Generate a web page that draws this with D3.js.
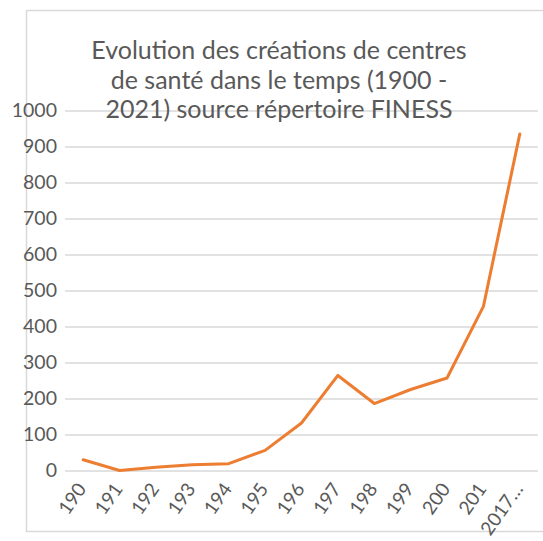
<!DOCTYPE html>
<html>
<head>
<meta charset="utf-8">
<script src="https://cdn.jsdelivr.net/npm/d3@7"></script>
<style>
  body { margin: 0; background: #fff; }
  svg { display: block; font-family: Lato, "Open Sans", sans-serif; }
</style>
</head>
<body>
<svg></svg>
<script>
let width = 543;
let height = 541;

let categories = ["190", "191", "192", "193", "194", "195", "196", "197", "198", "199", "200", "201", "2017…"];
let values = [30, 0, 9, 16, 19, 56, 132, 264, 186, 225, 257, 456, 935];
let yTicks = [0, 100, 200, 300, 400, 500, 600, 700, 800, 900, 1000];
let titleLines = ["Evolution des créations de centres", "de santé dans le temps (1900 -", "2021) source répertoire FINESS"];

let data = categories.map((c, i) => ({ cat: c, value: values[i] }));

let plot = { left: 65, right: 538, top: 110.5, bottom: 470.5 };

let xScale = d3.scaleBand()
    .domain(categories)
    .range([plot.left, plot.right]);

let yScale = d3.scaleLinear()
    .domain([0, 1000])
    .range([plot.bottom, plot.top]);

let svg = d3.select("svg")
    .attr("width", width)
    .attr("height", height);

// chart border
svg.append("rect")
    .attr("x", 26.5)
    .attr("y", 10.5)
    .attr("width", 530)
    .attr("height", 521)
    .attr("fill", "none")
    .attr("stroke", "#d9d9d9")
    .attr("stroke-width", 1.5);

// gridlines + y labels
let yAxis = d3.axisLeft(yScale)
    .tickValues(yTicks)
    .tickFormat(d3.format("d"))
    .tickSize(-(plot.right - plot.left))
    .tickSizeOuter(0)
    .tickPadding(8);

let gy = svg.append("g")
    .attr("transform", "translate(" + plot.left + ",0)")
    .call(yAxis);

gy.select(".domain").remove();
gy.selectAll(".tick line")
    .attr("stroke", "#d9d9d9")
    .attr("stroke-width", 1.5);
gy.selectAll(".tick text")
    .attr("fill", "#595959")
    .style("font-size", "19.5px")
    .style("font-family", "Lato, sans-serif");

// x labels
svg.append("g")
    .selectAll("text")
    .data(categories)
    .enter()
    .append("text")
    .attr("transform", d => "translate(" + (xScale(d) + xScale.bandwidth() / 2 + 4) + ",489) rotate(-55)")
    .attr("text-anchor", "end")
    .attr("fill", "#595959")
    .style("font-size", "19px")
    .text(d => d);

// title
svg.append("text")
    .attr("x", 279)
    .attr("fill", "#595959")
    .attr("text-anchor", "middle")
    .style("font-size", "25px")
    .selectAll("tspan")
    .data(titleLines)
    .enter()
    .append("tspan")
    .attr("x", 279)
    .attr("y", (d, i) => 59 + i * 29.5)
    .text(d => d);

// line
let line = d3.line()
    .x(d => xScale(d.cat) + xScale.bandwidth() / 2)
    .y(d => yScale(d.value));

svg.append("path")
    .datum(data)
    .attr("d", line)
    .attr("fill", "none")
    .attr("stroke", "#ed7d31")
    .attr("stroke-width", 3)
    .attr("stroke-linejoin", "round")
    .attr("stroke-linecap", "round");
</script>
</body>
</html>
